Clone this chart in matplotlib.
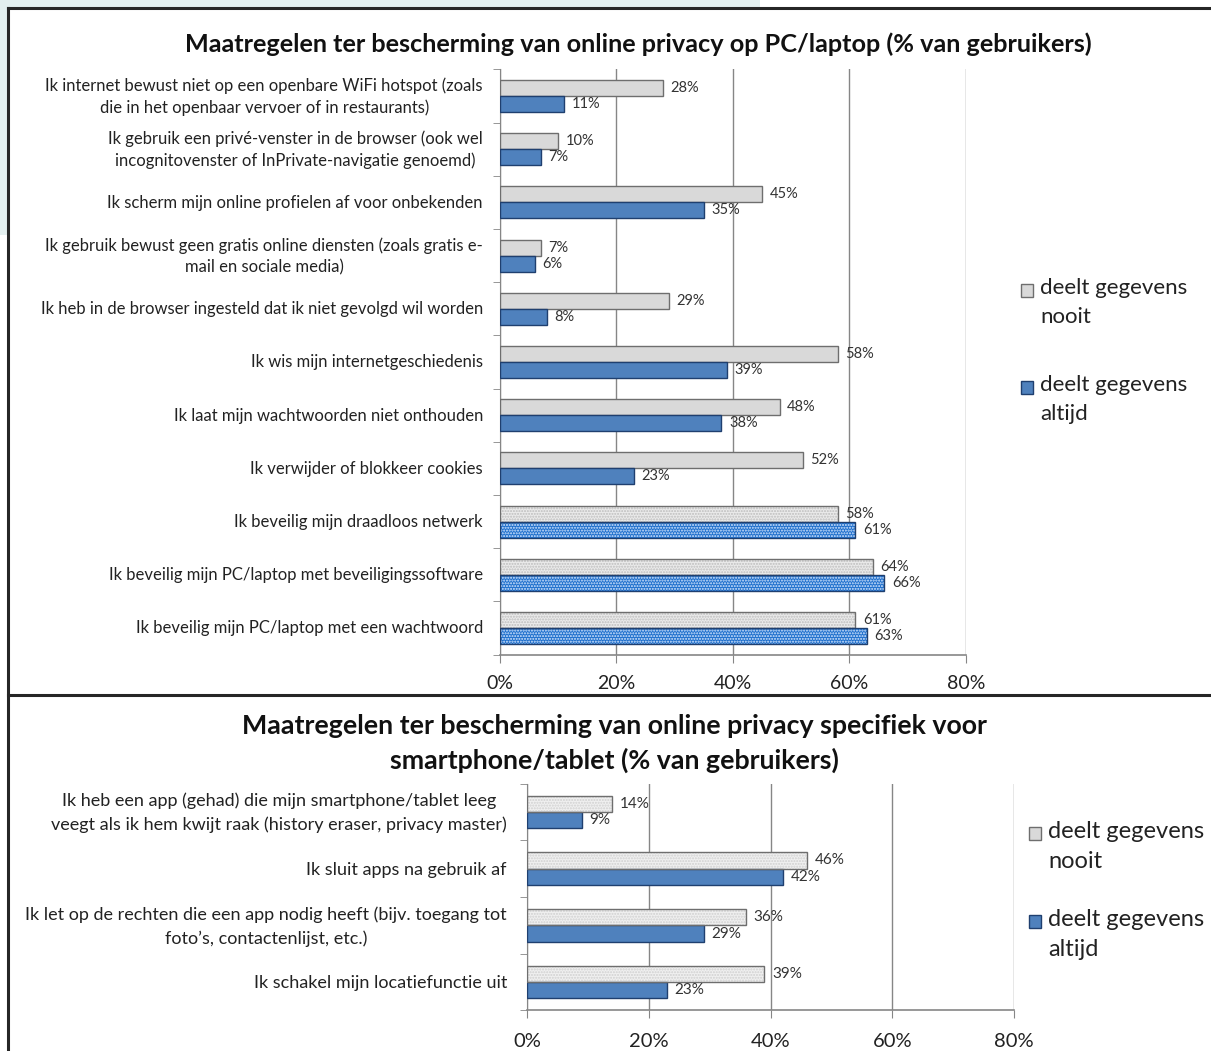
import matplotlib
matplotlib.use("Agg")
import matplotlib.pyplot as plt
from matplotlib.patches import Rectangle
from matplotlib.lines import Line2D
import numpy as np

plt.rcParams['font.family'] = ['Lato', 'DejaVu Sans']
plt.rcParams['hatch.linewidth'] = 1.0

# ---------------- data ----------------
top_title = "Maatregelen ter bescherming van online privacy op PC/laptop (% van gebruikers)"
top_categories = [
    "Ik internet bewust niet op een openbare WiFi hotspot (zoals\ndie in het openbaar vervoer of in restaurants)",
    "Ik gebruik een privé-venster in de browser (ook wel\nincognitovenster of InPrivate-navigatie genoemd)",
    "Ik scherm mijn online profielen af voor onbekenden",
    "Ik gebruik bewust geen gratis online diensten (zoals gratis e-\nmail en sociale media)",
    "Ik heb in de browser ingesteld dat ik niet gevolgd wil worden",
    "Ik wis mijn internetgeschiedenis",
    "Ik laat mijn wachtwoorden niet onthouden",
    "Ik verwijder of blokkeer cookies",
    "Ik beveilig mijn draadloos netwerk",
    "Ik beveilig mijn PC/laptop met beveiligingssoftware",
    "Ik beveilig mijn PC/laptop met een wachtwoord",
]
top_nooit = [28, 10, 45, 7, 29, 58, 48, 52, 58, 64, 61]
top_altijd = [11, 7, 35, 6, 8, 39, 38, 23, 61, 66, 63]
top_patterned = [False] * 8 + [True] * 3

bottom_title = "Maatregelen ter bescherming van online privacy specifiek voor\nsmartphone/tablet (% van gebruikers)"
bottom_categories = [
    "Ik heb een app (gehad) die mijn smartphone/tablet leeg\nveegt als ik hem kwijt raak (history eraser, privacy master)",
    "Ik sluit apps na gebruik af",
    "Ik let op de rechten die een app nodig heeft (bijv. toegang tot\nfoto’s, contactenlijst, etc.)",
    "Ik schakel mijn locatiefunctie uit",
]
bottom_nooit = [14, 46, 36, 39]
bottom_altijd = [9, 42, 29, 23]

series_labels = ["deelt gegevens\nnooit", "deelt gegevens\naltijd"]
x_ticks = [0, 20, 40, 60, 80]
x_ticklabels = ["0%", "20%", "40%", "60%", "80%"]

# ---------------- figure ----------------
W, H = 1211, 1051
fig = plt.figure(figsize=(W / 100, H / 100), dpi=100)
fig.patch.set_facecolor("white")


def rect(x0, y0, x1, y1):
    return [x0 / W, 1 - y1 / H, (x1 - x0) / W, (y1 - y0) / H]


# background tint outside the frame
bg = "#e3efef"
fig.patches.append(Rectangle((0, 1 - 8 / H), 760 / W, 8 / H, transform=fig.transFigure,
                             facecolor=bg, edgecolor="none", zorder=0))
fig.patches.append(Rectangle((0, 1 - 235 / H), 8 / W, 235 / H, transform=fig.transFigure,
                             facecolor=bg, edgecolor="none", zorder=0))

# frame lines
frame_col = "#262626"
fig.lines.append(Line2D([8 / W, 1], [1 - 8 / H, 1 - 8 / H], transform=fig.transFigure,
                        color=frame_col, lw=2.2))
fig.lines.append(Line2D([8 / W, 8 / W], [1 - 8 / H, 0], transform=fig.transFigure,
                        color=frame_col, lw=2.2))
fig.lines.append(Line2D([8 / W, 1], [1 - 695 / H, 1 - 695 / H], transform=fig.transFigure,
                        color=frame_col, lw=2.2))

GRAY_FILL = "#d9d9d9"
GRAY_EDGE = "#6e6e6e"
BLUE_FILL = "#4f81bd"
BLUE_EDGE = "#1f3f6f"
BLUE_PAT = "#1e6fcc"


def draw_panel(ax, cats, nooit, altijd, patterned, bar_h, label_off, val_fs, cat_fs, tick_fs,
               cat_ls, tick_pad, label_shift, bottom_gray_hatch=False):
    n = len(cats)
    y = np.arange(n)
    for i in range(n):
        yg = y[i] - bar_h / 2
        yb = y[i] + bar_h / 2
        if patterned[i]:
            ax.barh(yg, nooit[i], height=bar_h, color="#ebebeb", edgecolor="none", zorder=3)
            ax.barh(yg, nooit[i], height=bar_h, color="none", edgecolor="#bdbdbd",
                    hatch="......", lw=0, zorder=3.2)
            ax.barh(yg, nooit[i], height=bar_h, color="none", edgecolor=GRAY_EDGE, lw=1.0, zorder=3.5)
            ax.barh(yb, altijd[i], height=bar_h, color=BLUE_PAT, edgecolor="none", zorder=3)
            ax.barh(yb, altijd[i], height=bar_h, color="none", edgecolor="#d8e8ff",
                    hatch="......", lw=0, zorder=3.2)
            ax.barh(yb, altijd[i], height=bar_h, color="none", edgecolor=BLUE_EDGE, lw=1.0, zorder=3.5)
        else:
            if bottom_gray_hatch:
                ax.barh(yg, nooit[i], height=bar_h, color="#f0f0f0", edgecolor="none", zorder=3)
                ax.barh(yg, nooit[i], height=bar_h, color="none", edgecolor="#d0d0d0",
                        hatch="......", lw=0, zorder=3.2)
                ax.barh(yg, nooit[i], height=bar_h, color="none", edgecolor=GRAY_EDGE, lw=1.0, zorder=3.5)
            else:
                ax.barh(yg, nooit[i], height=bar_h, color=GRAY_FILL, edgecolor=GRAY_EDGE, lw=1.0, zorder=3)
            ax.barh(yb, altijd[i], height=bar_h, color=BLUE_FILL, edgecolor=BLUE_EDGE, lw=1.0, zorder=3)
        ax.annotate(f"{nooit[i]}%", (nooit[i], yg), xytext=(5.5, 0), textcoords="offset points",
                    ha="left", va="center", fontsize=val_fs, color="#333333", zorder=5)
        ax.annotate(f"{altijd[i]}%", (altijd[i], yb), xytext=(5.5, 0), textcoords="offset points",
                    ha="left", va="center", fontsize=val_fs, color="#333333", zorder=5)
        # category label
        ax.annotate(cats[i], (0, y[i]), xytext=(-label_off, label_shift), textcoords="offset pixels",
                    ha="right", va="center", multialignment="center", fontsize=cat_fs,
                    color="#222222", linespacing=cat_ls, annotation_clip=False)

    ax.set_xlim(0, 80)
    ax.set_ylim(n - 0.5, -0.5)
    ax.set_xticks(x_ticks)
    ax.set_xticklabels(x_ticklabels, fontsize=tick_fs, color="#222222")
    ax.set_yticks([])
    ax.set_yticks(np.arange(n + 1) - 0.5, minor=True)
    ax.tick_params(axis="y", which="minor", length=5, color="#868686", direction="out")
    ax.tick_params(axis="x", length=6, color="#868686", direction="out", pad=tick_pad)
    ax.grid(axis="x", color="#868686", lw=1.0, zorder=1)
    ax.set_axisbelow(True)
    for s in ["top", "right"]:
        ax.spines[s].set_visible(False)
    ax.spines["left"].set_color("#868686")
    ax.spines["bottom"].set_color("#868686")
    ax.spines["bottom"].set_linewidth(1.2)
    ax.patch.set_alpha(0)


def legend(x, ys, fs, ls):
    colors = [(GRAY_FILL, GRAY_EDGE), (BLUE_FILL, BLUE_EDGE)]
    for (fc, ec), yy, lab in zip(colors, ys, series_labels):
        fig.patches.append(Rectangle((x / W, 1 - (yy + 6) / H), 12 / W, 13 / H,
                                     transform=fig.transFigure, facecolor=fc, edgecolor=ec, lw=1))
        fig.text((x + 19) / W, 1 - (yy - 13) / H, lab, ha="left", va="top",
                 fontsize=fs, color="#222222", linespacing=ls)


# top panel
ax1 = fig.add_axes(rect(500, 69.4, 966, 654.6))
draw_panel(ax1, top_categories, top_nooit, top_altijd, top_patterned,
           bar_h=0.30, label_off=17, val_fs=10.5, cat_fs=12, cat_ls=1.42, tick_fs=14, tick_pad=9,
           label_shift=-0.5)
fig.text(638 / W, 1 - 44 / H, top_title, ha="center", va="center",
         fontsize=18.2, fontweight="bold", color="#111111")
legend(1021, [291, 388], 16, 1.58)

# bottom panel
ax2 = fig.add_axes(rect(527, 783.7, 1014, 1010.3))
draw_panel(ax2, bottom_categories, bottom_nooit, bottom_altijd, [False] * 4,
           bar_h=0.29, label_off=20, val_fs=11, cat_fs=13, cat_ls=1.55, tick_fs=14.5, tick_pad=10,
           label_shift=-1, bottom_gray_hatch=True)
fig.text(614 / W, 1 - 743.5 / H, bottom_title, ha="center", va="center",
         fontsize=19.3, fontweight="bold", color="#111111", linespacing=1.42)
legend(1029, [834, 922], 17, 1.55)

fig.savefig("out.png", dpi=100)
